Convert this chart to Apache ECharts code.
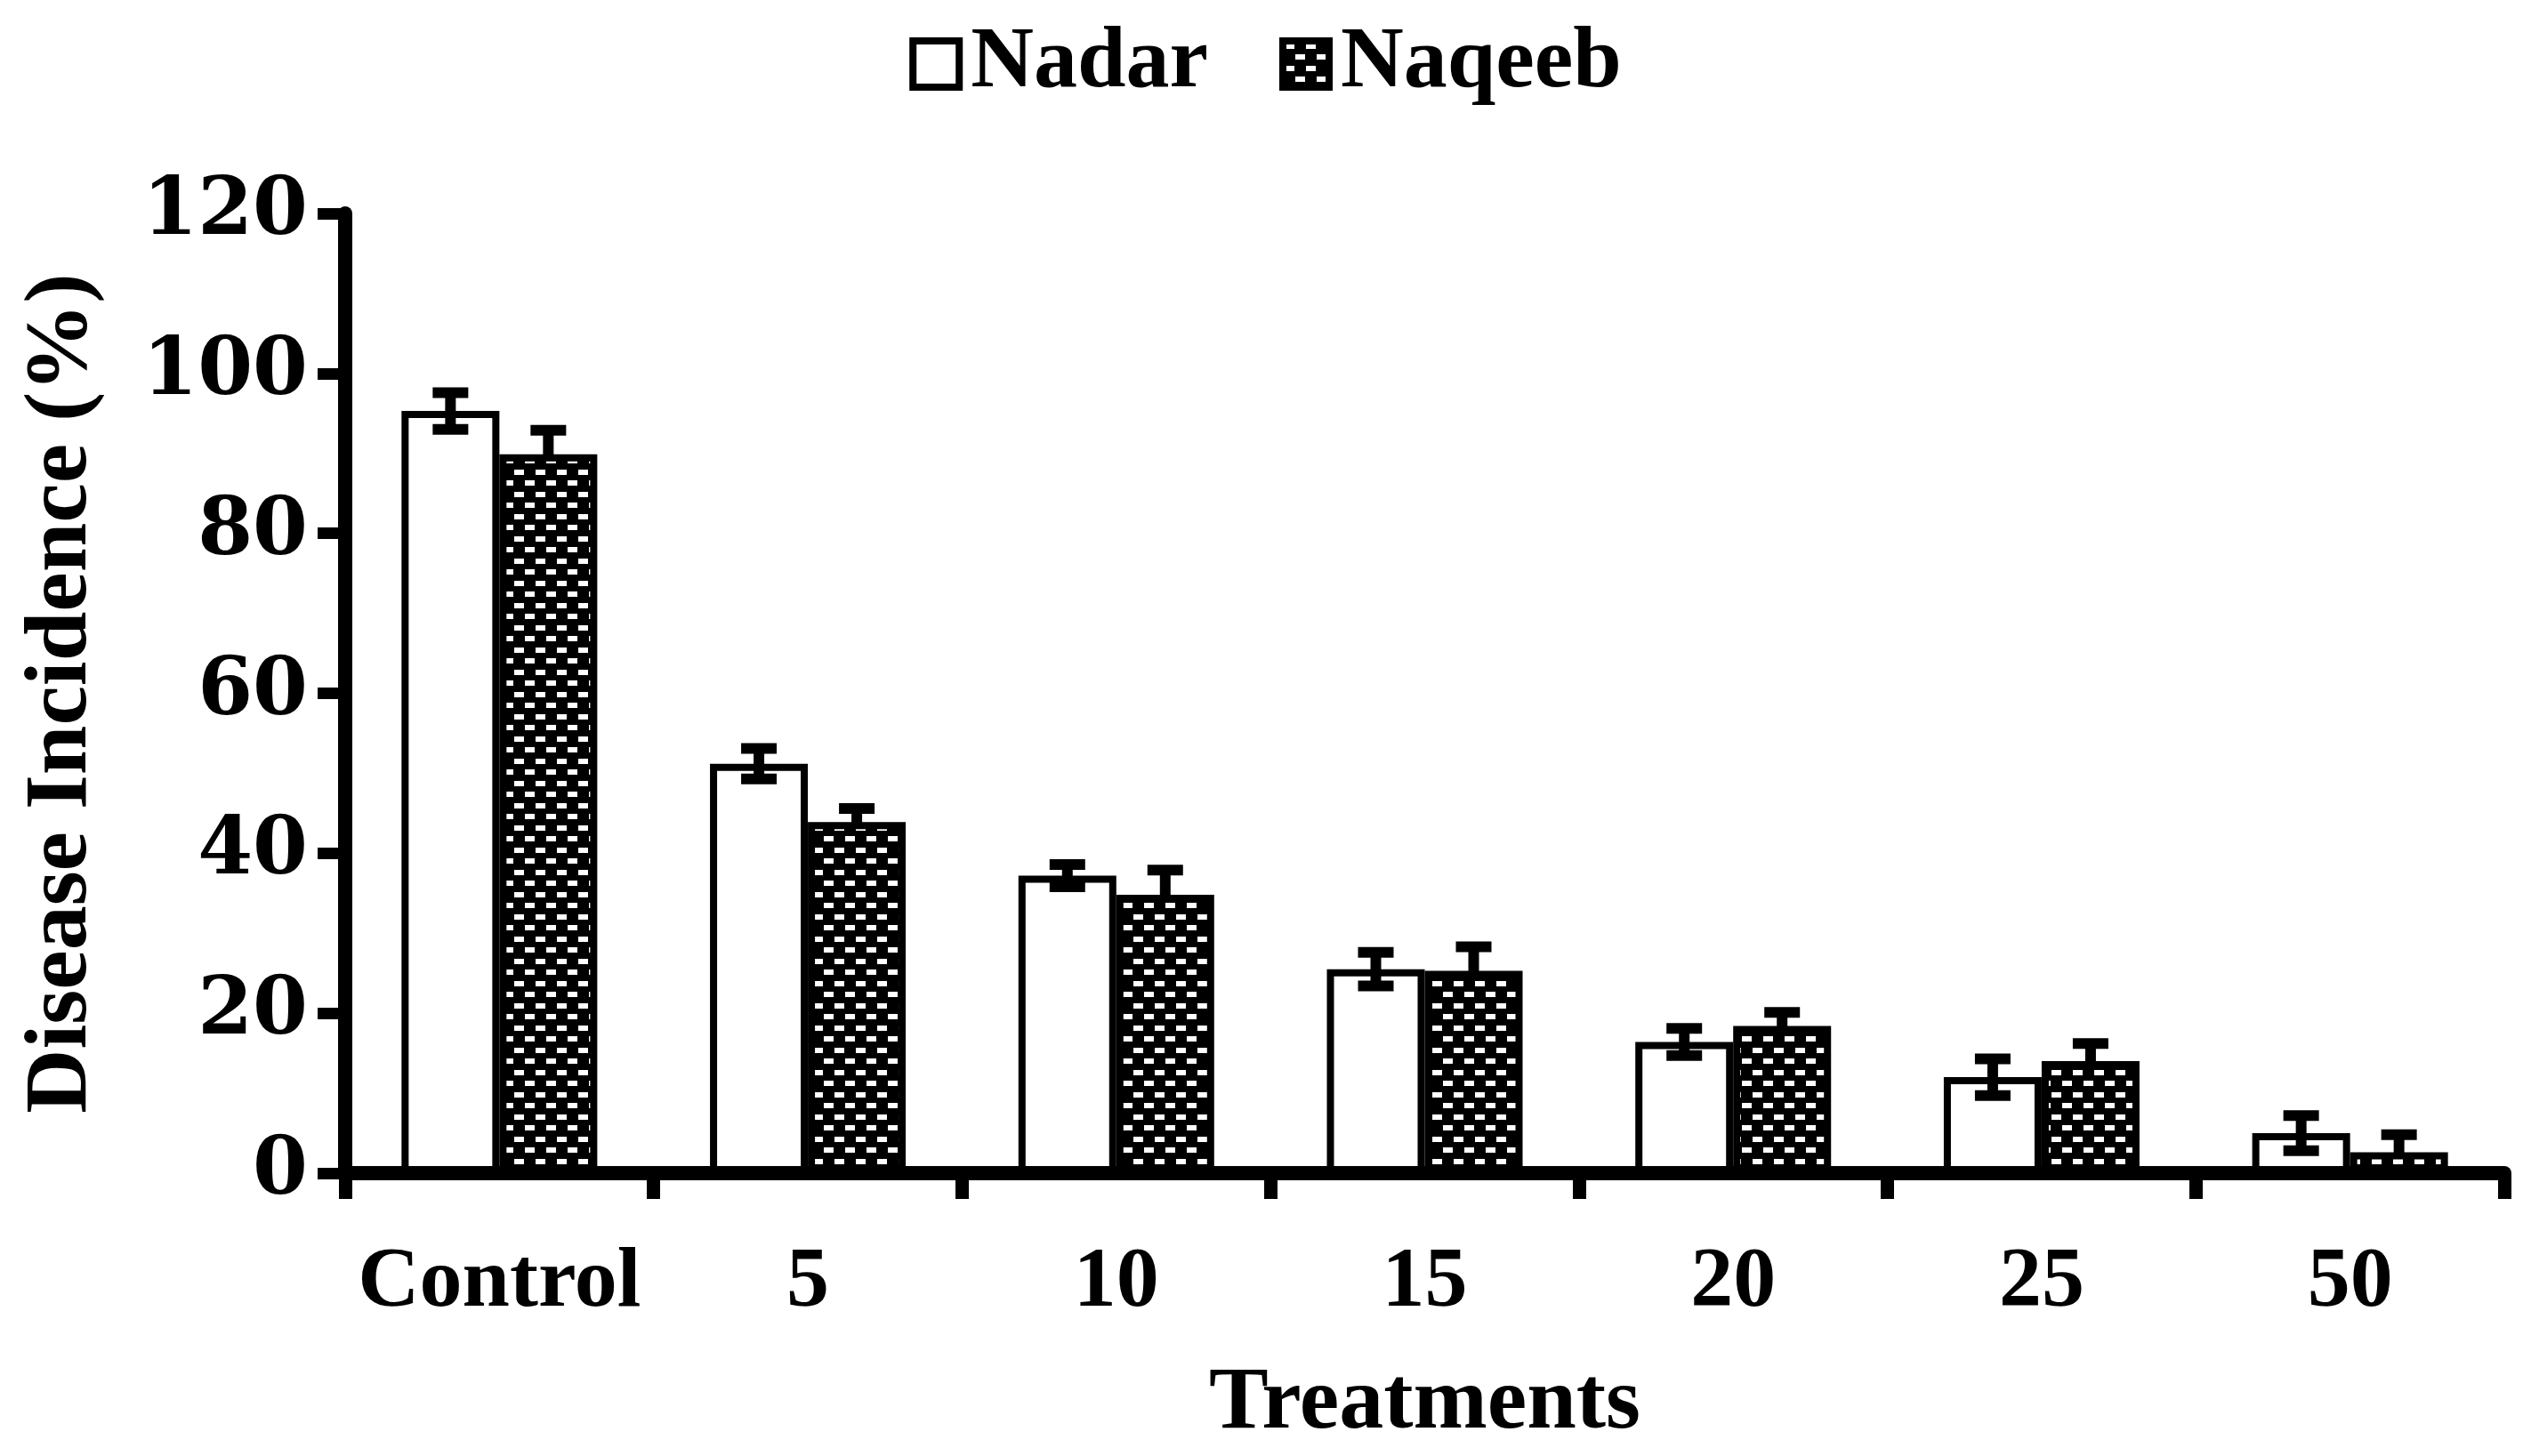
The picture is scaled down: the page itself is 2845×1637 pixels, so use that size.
<!DOCTYPE html>
<html>
<head>
<meta charset="utf-8">
<script src="https://cdn.jsdelivr.net/npm/echarts@6/dist/echarts.min.js"></script>
<style>
html,body{margin:0;padding:0;background:#fff;}
#chart{width:2845px;height:1637px;}
</style>
</head>
<body>
<div id="chart"></div>
<script>
const categories = ['Control', '5', '10', '15', '20', '25', '50'];
const seriesNames = ['Nadar', 'Naqeeb'];
const nadar = [95.3, 51.2, 37.2, 25.5, 16.4, 12.0, 5.0];
const nadarErr = [2.3, 1.9, 1.4, 2.1, 1.7, 2.3, 2.2];
const naqeeb = [89.9, 43.9, 34.8, 25.3, 18.4, 14.0, 2.6];
const naqeebErr = [3.0, 1.7, 3.1, 3.0, 1.7, 2.2, 2.2];
const yMin = 0, yMax = 120, yInterval = 20;

const BAR_W = 110;

// brick-like dotted pattern: black with small white rectangles in staggered rows
function makePattern() {
  const c = document.createElement('canvas');
  c.width = 24; c.height = 25;
  const g = c.getContext('2d');
  g.fillStyle = '#000';
  g.fillRect(0, 0, 24, 25);
  g.fillStyle = '#fff';
  g.fillRect(2, 3, 11, 6);
  g.fillRect(14, 15, 11, 6);
  g.fillRect(-10, 15, 11, 6);
  return c;
}
const pattern = { image: makePattern(), repeat: 'repeat' };

function errData(vals, errs) {
  return vals.map((v, i) => [i, v, errs[i]]);
}

function makeErr(sign) {
  return function (params, api) {
    const i = api.value(0), v = api.value(1), e = api.value(2);
    const off = sign * BAR_W / 2;
    const top = api.coord([i, v + e]);
    const bot = api.coord([i, v - e]);
    const x = top[0] + off;
    const half = 20;
    const st = { stroke: '#000', lineWidth: 12 };
    return {
      type: 'group',
      children: [
        { type: 'line', shape: { x1: x, y1: top[1], x2: x, y2: bot[1] }, style: st },
        { type: 'line', shape: { x1: x - half, y1: top[1], x2: x + half, y2: top[1] }, style: st },
        { type: 'line', shape: { x1: x - half, y1: bot[1], x2: x + half, y2: bot[1] }, style: st }
      ]
    };
  };
}

const chart = echarts.init(document.getElementById('chart'));
const serif = '"Liberation Serif", "Times New Roman", serif';

chart.setOption({
  backgroundColor: '#fff',
  animation: false,
  legend: {
    data: seriesNames,
    left: 'center',
    top: 18,
    icon: 'rect',
    itemWidth: 52,
    itemHeight: 52,
    itemGap: 80,
    itemStyle: { borderColor: '#000', borderWidth: 8 },
    textStyle: { fontFamily: serif, fontWeight: 'bold', fontSize: 98, color: '#000', padding: [0, 0, 0, 8] }
  },
  grid: { left: 388, right: 30, top: 240, bottom: 318, containLabel: false },
  xAxis: {
    type: 'category',
    data: categories,
    name: 'Treatments',
    nameLocation: 'middle',
    nameGap: 210,
    nameTextStyle: { fontFamily: serif, fontWeight: 'bold', fontSize: 100, color: '#000' },
    axisLine: { lineStyle: { color: '#000', width: 16 } },
    axisTick: { show: true, interval: 0, length: 29, lineStyle: { color: '#000', width: 15 } },
    axisLabel: { interval: 0, margin: 76, fontFamily: serif, fontWeight: 'bold', fontSize: 96, color: '#000' }
  },
  yAxis: {
    type: 'value',
    min: yMin, max: yMax, interval: yInterval,
    name: 'Disease Incidence (%)',
    nameLocation: 'middle',
    nameGap: 268,
    nameTextStyle: { fontFamily: serif, fontWeight: 'bold', fontSize: 100, color: '#000' },
    splitLine: { show: false },
    axisLine: { show: true, lineStyle: { color: '#000', width: 16 } },
    axisTick: { show: true, length: 31, lineStyle: { color: '#000', width: 13 } },
    axisLabel: { margin: 42, fontFamily: '"DejaVu Serif", serif', fontWeight: 'bold', fontSize: 89, color: '#000' }
  },
  series: [
    {
      name: 'Nadar', type: 'bar', data: nadar,
      barWidth: BAR_W, barGap: '0%',
      itemStyle: { color: '#fff', borderColor: '#000', borderWidth: 8 },
      z: 2
    },
    {
      name: 'Naqeeb', type: 'bar', data: naqeeb,
      barWidth: BAR_W, barGap: '0%',
      itemStyle: { color: pattern, borderColor: '#000', borderWidth: 8 },
      z: 2
    },
    {
      type: 'custom', name: 'NadarErr', renderItem: makeErr(-1),
      data: errData(nadar, nadarErr), z: 5, clip: false, silent: true
    },
    {
      type: 'custom', name: 'NaqeebErr', renderItem: makeErr(1),
      data: errData(naqeeb, naqeebErr), z: 1, clip: false, silent: true
    }
  ]
});
</script>
</body>
</html>
